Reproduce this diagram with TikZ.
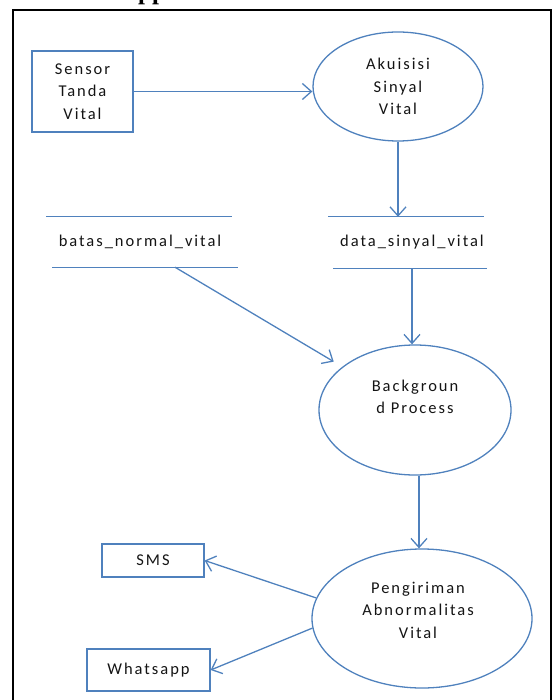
\documentclass[tikz,border=0pt]{standalone}
\usepackage{fontspec}
\newfontfamily\calfont[LetterSpace=12]{Carlito}
\newfontfamily\ttlfont{Liberation Serif}
\usetikzlibrary{arrows.meta,shapes.geometric}
\definecolor{ln}{RGB}{79,129,189}
\definecolor{tx}{RGB}{20,20,20}
\begin{document}
\begin{tikzpicture}[x=1pt,y=-1pt,
  txt/.style={font=\calfont\fontsize{16.5}{22.5}\selectfont, text=tx, align=center},
  proc/.style={ellipse, draw=ln, line width=1.3pt, inner sep=0pt},
  ent/.style={rectangle, draw=ln, line width=1.3pt, inner sep=0pt},
  flow/.style={draw=ln, line width=1.3pt, -{Straight Barb[length=9pt,width=16pt]}},
  sline/.style={draw=ln, line width=1.3pt}]
\useasboundingbox (0,0) rectangle (555,700);
% outer frame
\draw[line width=1.6pt] (13,10) rectangle (551,720);
% cut-off title
\node[font=\ttlfont\bfseries\fontsize{25}{25}\selectfont, anchor=base west, inner sep=0pt] (ttl) at (138,-0.5) {pp};
% nodes
\node[ent, minimum width=101pt, minimum height=81pt, txt] (sen) at (82.5,91.5) {Sensor\\Tanda\\Vital};
\node[proc, minimum width=170pt, minimum height=109pt, txt] (aku) at (398,86.5) {Akuisisi\\Sinyal\\Vital};
\node[txt, minimum height=50pt, inner sep=0pt] (bnv) at (140,242) {batas\_normal\_vital};
\node[txt, minimum height=51pt, inner sep=0pt] (dsv) at (412,242.5) {data\_sinyal\_vital};
\node[proc, minimum width=192pt, minimum height=130pt] (bp) at (415,410) {};
\node[txt] (bpt) at ([yshift=13pt]bp.center) {Backgroun\\d Process};
\node[proc, minimum width=220pt, minimum height=139pt] (pen) at (422,618.5) {};
\node[txt] (pent) at ([xshift=-4pt,yshift=8.5pt]pen.center) {Pengiriman\\Abnormalitas\\Vital};
\node[ent, minimum width=102pt, minimum height=33pt, txt] (sms) at (153,560.5) {SMS};
\node[ent, minimum width=123pt, minimum height=42pt, txt] (wa) at (148.5,670) {Whatsapp};
% data store lines
\draw[sline] ([xshift=-94pt]bnv.north) -- ([xshift=92pt]bnv.north);
\draw[sline] ([xshift=-88pt]bnv.south) -- ([xshift=98pt]bnv.south);
\draw[sline] ([xshift=-84pt]dsv.north) -- ([xshift=72pt]dsv.north);
\draw[sline] ([xshift=-79pt]dsv.south) -- ([xshift=75pt]dsv.south);
% flows
\draw[flow] (sen.east) -- (sen.east -| aku.west);
\draw[flow] (aku.south) -- (aku.south |- dsv.north);
\draw[flow] (dsv.south) -- (dsv.south |- bp.north);
\coordinate (bnvout) at ([xshift=35pt]bnv.south);
\draw[flow, shorten >=10pt] (bnvout) -- (bp);
\coordinate (bpout) at ([xshift=4pt]bp.south);
\draw[flow] (bpout) -- (bpout |- pen.north);
\draw[flow] (pen.169) -- (sms.east);
\draw[flow] (pen.185) -- (wa.east);
\end{tikzpicture}
\end{document}
